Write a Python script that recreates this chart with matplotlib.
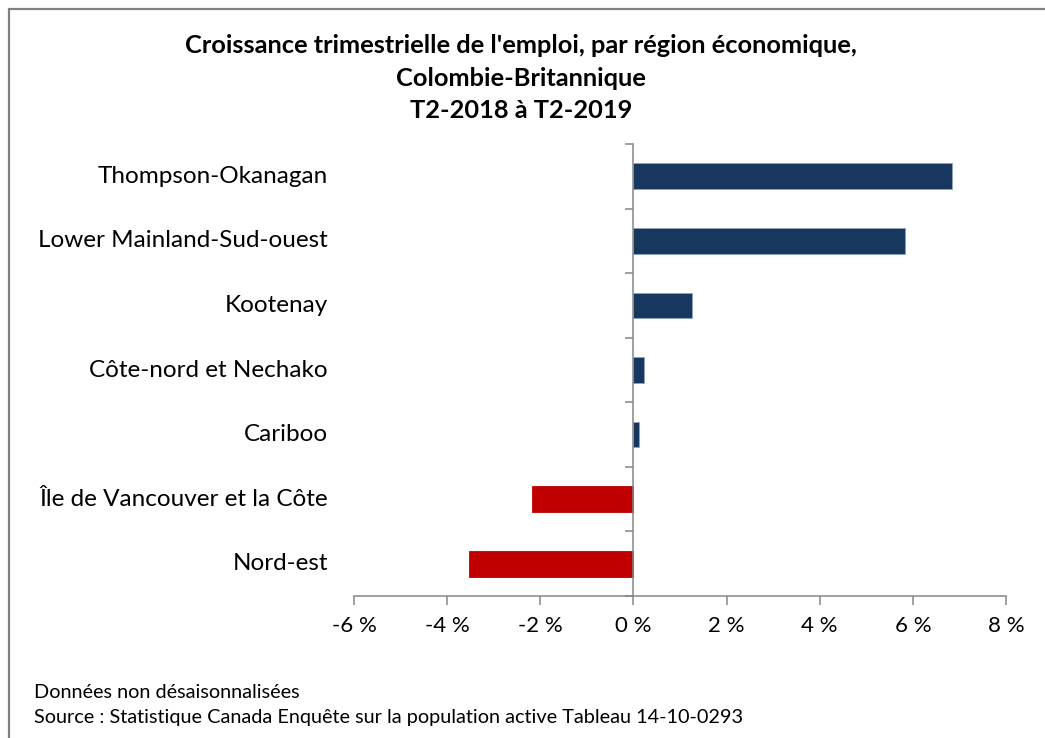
import matplotlib.pyplot as plt
from matplotlib.patches import Rectangle
from matplotlib.ticker import FuncFormatter
import matplotlib.transforms as mtransforms

regions = ["Thompson-Okanagan", "Lower Mainland-Sud-ouest", "Kootenay",
           "Côte-nord et Nechako", "Cariboo", "Île de Vancouver et la Côte", "Nord-est"]
growth = [6.84, 5.84, 1.26, 0.23, 0.11, -2.17, -3.54]

title = "Croissance trimestrielle de l'emploi, par région économique,\nColombie-Britannique\nT2-2018 à T2-2019"
note1 = "Données non désaisonnalisées"
note2 = "Source : Statistique Canada Enquête sur la population active Tableau 14-10-0293"

plt.rcParams['font.family'] = ['Lato', 'DejaVu Sans']
axis_grey = "#868686"

fig = plt.figure(figsize=(10.45, 7.38), dpi=100)
ax = fig.add_axes([354/1045, 1 - 596/738, 652/1045, 452/738])

colors = ["#17375E" if v >= 0 else "#C00000" for v in growth]
edges = ["#8FA3BF" if v >= 0 else "#C00000" for v in growth]
ypos = list(range(len(regions)))
ax.barh(ypos, growth, height=0.4, color=colors, edgecolor=edges, linewidth=0.6, zorder=2)

ax.set_xlim(-6, 8)
ax.set_ylim(len(regions) - 0.5, -0.5)
ax.set_xticks(range(-6, 9, 2))
ax.xaxis.set_major_formatter(FuncFormatter(lambda v, p: f"{int(v)} %"))
ax.tick_params(axis='x', direction='out', length=6.5, width=1.1, color=axis_grey,
               labelsize=16, pad=8, labelcolor="black")

# category axis crosses at zero, ticks between categories
ax.spines['left'].set_position(('data', 0))
ax.set_yticks([i - 0.5 for i in range(len(regions) + 1)])
ax.set_yticklabels([])
ax.tick_params(axis='y', direction='out', length=6, width=1.1, color=axis_grey)
for s in ['top', 'right']:
    ax.spines[s].set_visible(False)
for s in ['left', 'bottom']:
    ax.spines[s].set_color(axis_grey)
    ax.spines[s].set_linewidth(1.1)

trans = mtransforms.blended_transform_factory(ax.transAxes, ax.transData)
for i, name in enumerate(regions):
    ax.text(-0.04, i, name, transform=trans, ha='right', va='center', fontsize=17.5)

fig.text(521/1045, 1 - 78/738, title, ha='center', va='center', fontsize=18.3,
         fontweight='bold', linespacing=1.52)
fig.text(34/1045, 1 - 692/738, note1, ha='left', va='center', fontsize=14.3)
fig.text(34/1045, 1 - 717/738, note2, ha='left', va='center', fontsize=14.3)

fig.patches.append(Rectangle((9/1045, -0.05), 1.2, 1 - 9/738 + 0.05, transform=fig.transFigure,
                             fill=False, edgecolor="#808080", linewidth=1.6))

fig.savefig("out.png", dpi=100)
